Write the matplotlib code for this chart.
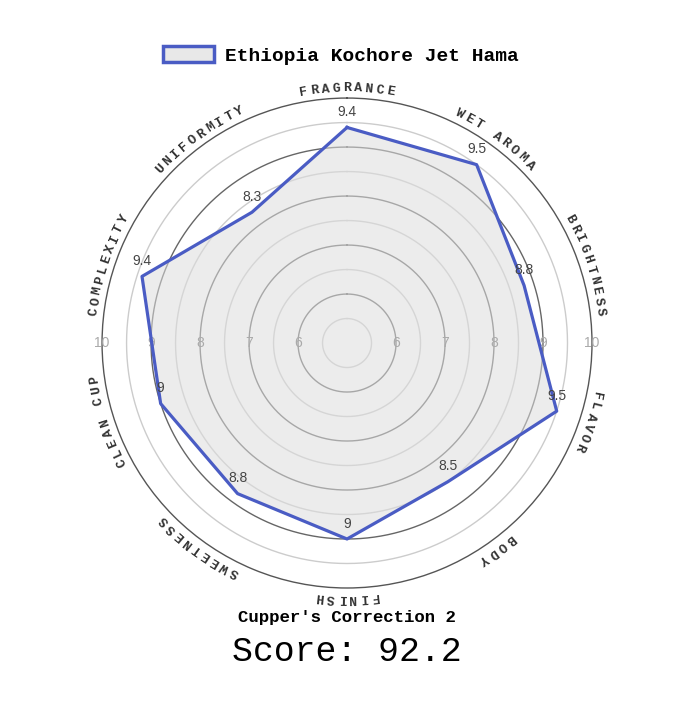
import numpy as np
import matplotlib
matplotlib.use('Agg')
from matplotlib import pyplot as plt
from matplotlib.patches import Patch

# cupping scores
attributes = ['FRAGRANCE', 'WET AROMA', 'BRIGHTNESS', 'FLAVOR', 'BODY',
              'FINISH', 'SWEETNESS', 'CLEAN CUP', 'COMPLEXITY', 'UNIFORMITY']
scores = [9.4, 9.5, 8.8, 9.5, 8.5, 9, 8.8, 9, 9.4, 8.3]
coffee = 'Ethiopia Kochore Jet Hama'
correction = 2
total = 92.2
ring_ticks = [6, 7, 8, 9, 10]

line_col = '#4a5cc4'
mono = 'Liberation Mono'
sans = 'Liberation Sans'

fig = plt.figure(figsize=(6.96, 7.08), dpi=100)
ax = fig.add_axes([0.1466, 0.1695, 0.704, 0.692], projection='polar')
ax.set_theta_zero_location('N')
ax.set_theta_direction(-1)
ax.set_ylim(5, 10)
ax.grid(False)
ax.set_xticks([])
ax.set_yticks([])
ax.spines['polar'].set_color('#555555')
ax.spines['polar'].set_linewidth(1)

n = len(attributes)
angles = np.arange(n) * 2 * np.pi / n

# rings: dark on whole numbers, light on halves
t = np.linspace(0, 2 * np.pi, 361)
for r in np.arange(5.5, 10, 0.5):
    col = '#666666' if r % 1 == 0 else '#cccccc'
    ax.plot(t, np.full_like(t, r), color=col, lw=1, zorder=1)

# scale numbers on both sides
for r in ring_ticks:
    for a in (np.pi / 2, 3 * np.pi / 2):
        ax.text(a, r, str(r), color='#aaaaaa', fontsize=10, family=sans,
                ha='center', va='center', zorder=3)

# the data polygon
th = np.append(angles, angles[0])
vals = np.append(scores, scores[0])
ax.fill(th, vals, color='#dddddd', alpha=0.55, zorder=2)
ax.plot(th, vals, color=line_col, lw=2.3, zorder=4)

for a, v in zip(angles, scores):
    ax.annotate('%g' % v, (a, v), xytext=(0, 11), textcoords='offset points',
                ha='center', va='center', fontsize=10, family=sans,
                color='#444444', zorder=5)

# curved attribute names
step = np.deg2rad(2.45)
for a, name in zip(angles, attributes):
    k = len(name)
    for i, ch in enumerate(name):
        ca = a + (i - (k - 1) / 2) * step
        ax.text(ca, 10.2, ch, rotation=-np.rad2deg(ca), rotation_mode='anchor',
                ha='center', va='center', fontsize=9.5, family=mono,
                fontweight='bold', color='#333333')

leg = fig.legend(handles=[Patch(facecolor='#e8e8e8', edgecolor=line_col, lw=2.5, label=coffee)],
                 loc='center', bbox_to_anchor=(0.49, 0.922), frameon=False,
                 handlelength=2.6, handleheight=0.95, handletextpad=0.6,
                 prop={'family': mono, 'weight': 'bold', 'size': 14})

fig.text(0.499, 0.1285, "Cupper's Correction %d" % correction, ha='center', va='center',
         family=mono, fontweight='bold', fontsize=12.5)
fig.text(0.499, 0.0805, 'Score: %g' % total, ha='center', va='center',
         family=mono, fontsize=25)

fig.savefig('out.png', dpi=100, facecolor='white')
